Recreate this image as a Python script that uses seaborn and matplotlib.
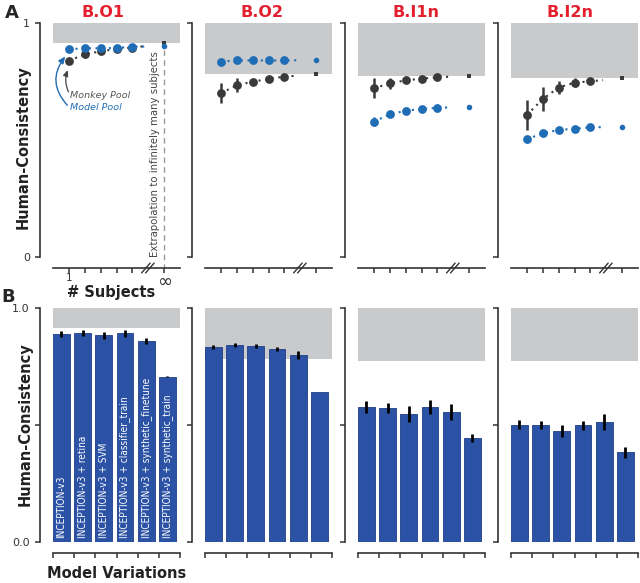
import matplotlib
matplotlib.use("Agg")
import matplotlib.pyplot as plt
from matplotlib import font_manager as fm
import seaborn as sns
import numpy as np

# ---------------- data ----------------
panels = ["B.O1", "B.O2", "B.I1n", "B.I2n"]
subjects = [1, 2, 3, 4, 5]
inf_pos = 7

ceiling_A = [0.915, 0.782, 0.775, 0.766]
monkey_mean = [[0.839, 0.866, 0.879, 0.889, 0.895],
               [0.700, 0.734, 0.749, 0.761, 0.771],
               [0.721, 0.742, 0.755, 0.762, 0.768],
               [0.607, 0.675, 0.724, 0.745, 0.751]]
monkey_err = [[0.008, 0.014, 0.006, 0.005, 0.004],
              [0.043, 0.030, 0.012, 0.010, 0.008],
              [0.043, 0.025, 0.012, 0.010, 0.008],
              [0.064, 0.050, 0.028, 0.020, 0.010]]
monkey_inf = [0.913, 0.782, 0.775, 0.765]
model_mean = [[0.888, 0.892, 0.892, 0.893, 0.899],
              [0.835, 0.840, 0.840, 0.840, 0.840],
              [0.578, 0.610, 0.625, 0.632, 0.638],
              [0.503, 0.529, 0.543, 0.548, 0.554]]
model_err = [[0.004, 0.004, 0.004, 0.004, 0.004],
             [0.008, 0.006, 0.005, 0.005, 0.005],
             [0.020, 0.012, 0.008, 0.006, 0.005],
             [0.015, 0.010, 0.008, 0.006, 0.005]]
model_inf = [0.900, 0.842, 0.641, 0.557]

ceiling_B = [0.916, 0.782, 0.775, 0.775]
variations = ["INCEPTION-v3", "INCEPTION-v3 + retina", "INCEPTION-v3 + SVM",
              "INCEPTION-v3 + classifier_train", "INCEPTION-v3 + synthetic_finetune",
              "INCEPTION-v3 + synthetic_train"]
bar_vals = [[0.889, 0.892, 0.883, 0.892, 0.859, 0.706],
            [0.833, 0.842, 0.838, 0.825, 0.799, 0.640],
            [0.578, 0.573, 0.547, 0.576, 0.556, 0.444],
            [0.501, 0.499, 0.474, 0.499, 0.512, 0.383]]
bar_err = [[0.011, 0.013, 0.014, 0.014, 0.014, 0.003],
           [0.008, 0.010, 0.010, 0.010, 0.017, 0.000],
           [0.026, 0.020, 0.034, 0.030, 0.034, 0.018],
           [0.020, 0.018, 0.025, 0.020, 0.033, 0.022]]

# ---------------- style ----------------
sns.set_style("ticks")
plt.rcParams["font.family"] = ["DejaVu Sans"]
GREY = "#c9cacc"
BLUE = "#1f6db5"
DARK = "#3a3a3a"
BAR = "#2b52a5"
RED = "#e5202e"
AX = "#333333"

# pick a narrow font for the in-bar labels if one is installed
names = {f.name for f in fm.fontManager.ttflist}
narrow_kw = {"family": ["DejaVu Sans"]}
if "Liberation Sans Narrow" in names:
    narrow_kw = {"family": ["Liberation Sans Narrow"]}
elif any(f.name == "DejaVu Sans" and "condensed" in str(f.stretch) for f in fm.fontManager.ttflist):
    narrow_kw = {"family": ["DejaVu Sans"], "fontstretch": "condensed"}

W, H = 640, 583
fig = plt.figure(figsize=(6.4, 5.83), dpi=100)

lefts = [53, 205, 358, 511]
width = 127
topA, botA = 23, 257
topB, botB = 308, 542
title_x = [0.394, 0.445, 0.453, 0.465]


def make_ax(left, top, bot):
    return fig.add_axes([left / W, 1 - bot / H, width / W, (bot - top) / H])


def style_spines(ax):
    for s in ["top", "right"]:
        ax.spines[s].set_visible(False)
    ax.spines["left"].set_position(("outward", 9.4))
    ax.spines["bottom"].set_position(("outward", 8.0))
    for s in ["left", "bottom"]:
        ax.spines[s].set_color(AX)
        ax.spines[s].set_linewidth(1.2)
    ax.tick_params(axis="both", direction="out", length=3.8, width=1.1,
                   color=AX, labelcolor=AX, labelsize=8)
    ax.set_facecolor("none")


dotted = (0, (1, 2.2))
bar_texts = []

for i in range(4):
    # ---------- panel A ----------
    ax = make_ax(lefts[i], topA, botA)
    style_spines(ax)
    ax.set_xlim(0, 8)
    ax.set_ylim(0, 1)
    ax.axhspan(ceiling_A[i], 1, color=GREY, zorder=0, lw=0)

    for mean, err, inf, col, z in [(monkey_mean[i], monkey_err[i], monkey_inf[i], DARK, 3),
                                   (model_mean[i], model_err[i], model_inf[i], BLUE, 4)]:
        ax.plot(subjects + [5.8], mean + [mean[-1] + 0.35 * (inf - mean[-1])],
                ls=dotted, color=col, lw=1.5, zorder=z)
        ax.errorbar(subjects, mean, yerr=err, fmt="none", ecolor=col,
                    elinewidth=1.8, capsize=0, zorder=z)
        sns.scatterplot(x=subjects, y=mean, color=col, s=40, linewidth=0,
                        ax=ax, zorder=z + 0.5, legend=False)
    sns.scatterplot(x=[inf_pos], y=[monkey_inf[i]], color=DARK, s=12, marker="s",
                    linewidth=0, ax=ax, zorder=5, legend=False)
    sns.scatterplot(x=[inf_pos], y=[model_inf[i]], color=BLUE, s=16, marker="o",
                    linewidth=0, ax=ax, zorder=6, legend=False)

    ax.set_xticks(subjects + [inf_pos])
    ax.set_yticks([0, 1])
    ax.spines["left"].set_bounds(0, 1)
    if i == 0:
        ax.set_xticklabels(["1", "", "", "", "", "\u221e"])
        lab = ax.get_xticklabels()
        lab[0].set_fontsize(7.5)
        lab[0].set_x(0.8)
        lab[-1].set_fontsize(13)
        ax.set_yticklabels(["0", "1"])
        ax.tick_params(axis="x", pad=0)
    else:
        ax.set_xticklabels([])
        ax.set_yticklabels([])
    # axis break marks
    yb = -11 / 234
    for xc in (5.85, 6.1):
        ax.plot([xc - 0.27, xc + 0.27], [yb - 0.021, yb + 0.021], color=AX,
                lw=1.0, clip_on=False, zorder=7)
    ax.text(title_x[i], 1.047, panels[i], transform=ax.transAxes, ha="center",
            va="center", color=RED, fontsize=11.5, fontweight="bold")

    if i == 0:
        ax.plot([inf_pos, inf_pos], [0.885, yb], ls=(0, (4, 3)), color="#9a9a9a",
                lw=1.0, clip_on=False, zorder=2)
        ax.text(6.45, 0.44, "Extrapolation to infinitely many subjects", rotation=90,
                ha="center", va="center", fontsize=7.3, color="#444444")
        ax.text(1.1, 0.692, "Monkey Pool", fontsize=6.8, style="italic",
                color="#555555", va="center", ha="left")
        ax.text(1.1, 0.637, "Model Pool", fontsize=6.8, style="italic",
                color=BLUE, va="center", ha="left")
        ax.annotate("", xy=(1.0, 0.81), xytext=(1.05, 0.695),
                    arrowprops=dict(arrowstyle="-|>,head_length=0.35,head_width=0.15",
                                    color="#444444", lw=0.9,
                                    connectionstyle="arc3,rad=-0.25"))
        ax.annotate("", xy=(0.88, 0.866), xytext=(1.02, 0.64),
                    arrowprops=dict(arrowstyle="-|>,head_length=0.4,head_width=0.18",
                                    color=BLUE, lw=1.0,
                                    connectionstyle="arc3,rad=-0.45"))

    # ---------- panel B ----------
    bx = make_ax(lefts[i], topB, botB)
    bx.axhspan(ceiling_B[i], 1, color=GREY, zorder=0, lw=0)
    sns.barplot(x=variations, y=bar_vals[i], order=variations, color=BAR,
                saturation=1, width=0.8, errorbar=None, ax=bx,
                edgecolor="#1d3d85", linewidth=0.6, zorder=2)
    bx.errorbar(np.arange(6), bar_vals[i], yerr=bar_err[i], fmt="none",
                ecolor="black", elinewidth=2.0, capsize=0, zorder=3)
    style_spines(bx)
    bx.set_xlim(-0.4, 5.6)
    bx.set_ylim(0, 1)
    bx.set_xticks(np.arange(7) - 0.4)
    bx.set_xticklabels([])
    bx.set_xlabel("")
    bx.set_yticks([0, 0.5, 1])
    bx.spines["left"].set_bounds(0, 1)
    if i == 0:
        bx.set_yticklabels(["0.0", "", "1.0"])
        for k, name in enumerate(variations):
            t = bx.text(k, 0.017, name, rotation=90, ha="center", va="bottom",
                        color="white", fontsize=8, zorder=4, **narrow_kw)
            bar_texts.append(t)
    else:
        bx.set_yticklabels([])

# scale the in-bar labels so the longest spans ~160 px like the reference
renderer = fig.canvas.get_renderer()
longest = bar_texts[4].get_window_extent(renderer).height
scale = 160.0 / longest
for t in bar_texts:
    t.set_fontsize(8 * scale)

# ---------------- figure texts ----------------
fig.text(12 / W, 1 - 13 / H, "A", fontsize=13, fontweight="bold", ha="center", va="center")
fig.text(8 / W, 1 - 297 / H, "B", fontsize=13, fontweight="bold", ha="center", va="center")
fig.text(23 / W, 1 - 147 / H, "Human-Consistency", rotation=90, fontsize=10.5,
         fontweight="bold", ha="center", va="center", color="#222222")
fig.text(25 / W, 1 - 424 / H, "Human-Consistency", rotation=90, fontsize=10.5,
         fontweight="bold", ha="center", va="center", color="#222222")
fig.text(111 / W, 1 - 293 / H, "# Subjects", fontsize=10.5, fontweight="bold",
         ha="center", va="center", color="#222222")
fig.text(117 / W, 1 - 573 / H, "Model Variations", fontsize=10.5, fontweight="bold",
         ha="center", va="center", color="#222222")

fig.savefig("out.png", dpi=100)
